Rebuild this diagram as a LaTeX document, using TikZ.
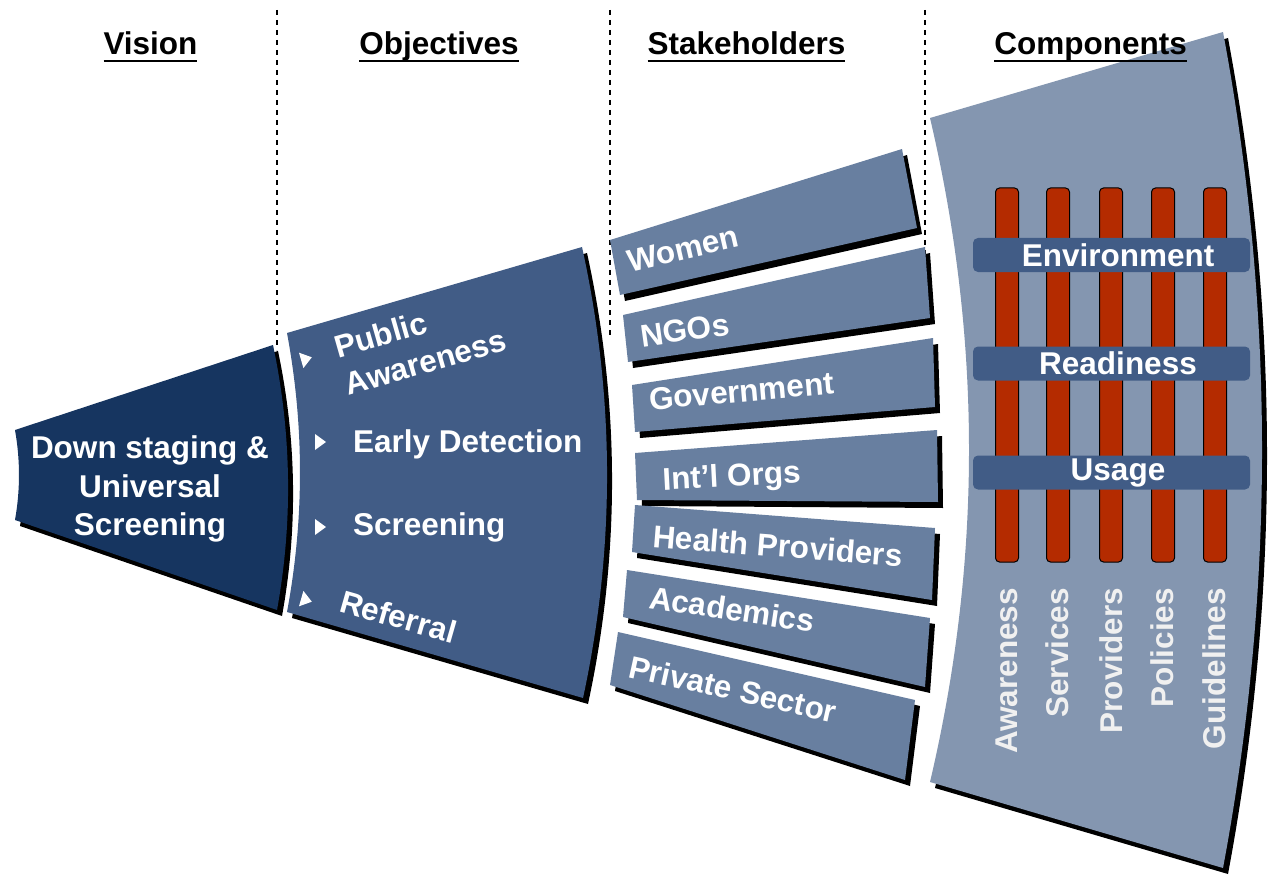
\documentclass[tikz,border=0pt]{standalone}
\usepackage{fontspec}
\setmainfont{Liberation Sans}
\definecolor{visc}{RGB}{22,53,96}
\definecolor{objc}{RGB}{65,92,134}
\definecolor{stkc}{RGB}{104,127,160}
\definecolor{cmpc}{RGB}{132,150,176}
\definecolor{redc}{RGB}{180,43,0}
\definecolor{lblc}{RGB}{240,240,240}
\newcommand\bigbf{\fontsize{31.5}{38.5}\selectfont\bfseries}
\newcommand\visionpath{(15,430) -- (273,345) .. controls (291.6,433.3) and (293,521.7) .. (277,610) -- (15,520) .. controls (20.3,490) and (20.3,460) .. (15,430) -- cycle}
\newcommand\objpath{(287,333) -- (582,247) .. controls (615,397.3) and (615.4,547.7) .. (583,698) -- (287,612) .. controls (304.3,519) and (304.3,426) .. (287,333) -- cycle}
\newcommand\cmppath{(930,118) -- (1223,32) .. controls (1275,310.7) and (1275,589.3) .. (1223,868) -- (930,782) .. controls (982,560.7) and (982,339.3) .. (930,118) -- cycle}
\newcommand\stakebar[4]{%
  \fill[black,shift={(5,6)}] #1 -- #2 -- #3 -- #4 -- cycle;
  \fill[stkc] #1 -- #2 -- #3 -- #4 -- cycle;}
\begin{document}
\begin{tikzpicture}[x=1pt,y=-1pt,
  lbl/.style={text=white,font=\bigbf,inner sep=0pt,outer sep=0pt},
  vlbl/.style={text=lblc,font=\bigbf,inner sep=0pt,outer sep=0pt,rotate=90,anchor=base east},
  head/.style={text=black,font=\bigbf,inner sep=0pt,outer sep=0pt,anchor=base},
  uline/.style={line width=2pt},
  divider/.style={black,line width=1.3pt,dash pattern=on 5pt off 5pt},
  pillar/.style={fill=redc,draw=black,line width=1pt,rounded corners=4pt,minimum width=23pt,minimum height=374pt,inner sep=0pt},
  band/.style={fill=objc,rounded corners=5pt,minimum width=277pt,minimum height=34pt,text=white,font=\bigbf,inner sep=0pt}]
\useasboundingbox (0,0) rectangle (1268,877);

% dividers
\coordinate (d1t) at (277,10); \coordinate (d1b) at (277,350);
\coordinate (d2t) at (610,10); \coordinate (d2b) at (610,338);
\coordinate (d3t) at (925,10); \coordinate (d3b) at (925,266);
\draw[divider] (d1t) -- (d1b);
\draw[divider] (d2t) -- (d2b);
\draw[divider] (d3t) -- (d3b);

% vision
\fill[black,shift={(5,6)}] \visionpath;
\fill[visc] \visionpath;

% objectives
\fill[black,shift={(5,6)}] \objpath;
\fill[objc] \objpath;

% stakeholders
\stakebar{(610,240)}{(902,149)}{(917,228)}{(620,295)}
\stakebar{(623,315)}{(925,247)}{(930,318)}{(628,362)}
\stakebar{(632,385)}{(933,338)}{(935,407)}{(635,432)}
\stakebar{(635,453)}{(937,430)}{(938,502)}{(637,500)}
\stakebar{(635,505)}{(935,528)}{(932,600)}{(632,552)}
\stakebar{(627,570)}{(930,618)}{(925,687)}{(623,617)}
\stakebar{(618,632)}{(915,700)}{(905,780)}{(610,685)}

% components
\fill[black,shift={(5,6)}] \cmppath;
\fill[cmpc] \cmppath;

% pillars
\node[pillar] (p1) at (1007,375) {};
\node[pillar] (p2) at (1058,375) {};
\node[pillar] (p3) at (1111,375) {};
\node[pillar] (p4) at (1163,375) {};
\node[pillar] (p5) at (1215,375) {};

% bands
\node[band] (env) at (1111.5,255) {\hspace*{13pt}Environment};
\node[band] (rdy) at (1111.5,363.5) {\hspace*{13pt}Readiness};
\node[band] (use) at (1111.5,472.5) {\hspace*{13pt}Usage};

% vertical labels
\node[vlbl] (aw) at (1017,588) {Awareness};
\node[vlbl] (sv) at (1068,588) {Services};
\node[vlbl] (pv) at (1122,588) {Providers};
\node[vlbl] (pl) at (1173,588) {Policies};
\node[vlbl] (gl) at (1225,588) {Guidelines};

% vision text
\node[lbl,align=center] (vis) at (150,489) {Down staging \&\\Universal\\Screening};

% objectives bullets and text
\fill[white] (311.8,357.3) -- (299,352.7) -- (303.4,368.1) -- cycle;
\fill[white] (326,442) -- (315,434) -- (315,450) -- cycle;
\fill[white] (326,527) -- (315,519) -- (315,535) -- cycle;
\fill[white] (311.8,601.7) -- (303.4,590.9) -- (299,606.3) -- cycle;
\node[lbl,rotate=16,align=left,anchor=north west] (pa) at (332,336.3) {Public\\Awareness};
\node[lbl,anchor=base west] (ed) at (353,452) {Early Detection};
\node[lbl,anchor=base west] (sc) at (353,535) {Screening};
\node[lbl,rotate=-16,anchor=base west] (rf) at (338,611) {Referral};

% stakeholder text
\node[lbl,rotate=13,anchor=base west] (wo) at (630,272) {Women};
\node[lbl,rotate=8,anchor=base west] (ng) at (642,347) {NGOs};
\node[lbl,rotate=5,anchor=base west] (gv) at (650,410) {Government};
\node[lbl,rotate=3,anchor=base west] (io) at (663,490) {Int’l Orgs};
\node[lbl,rotate=-4.5,anchor=base west] (hp) at (652,547) {Health Providers};
\node[lbl,rotate=-8.5,anchor=base west] (ac) at (648,608) {Academics};
\node[lbl,rotate=-12.5,anchor=base west] (ps) at (627,677) {Private Sector};

% headers
\node[head] (hv) at (150.5,55) {Vision};
\node[head] (ho) at (439,55) {Objectives};
\node[head] (hs) at (746.5,55) {Stakeholders};
\node[head] (hc) at (1090.5,55) {Components};
\draw[uline] ([yshift=-6pt]hv.base west) -- ([yshift=-6pt]hv.base east);
\draw[uline] ([yshift=-6pt]ho.base west) -- ([yshift=-6pt]ho.base east);
\draw[uline] ([yshift=-6pt]hs.base west) -- ([yshift=-6pt]hs.base east);
\draw[uline] ([yshift=-6pt]hc.base west) -- ([yshift=-6pt]hc.base east);
\end{tikzpicture}
\end{document}
